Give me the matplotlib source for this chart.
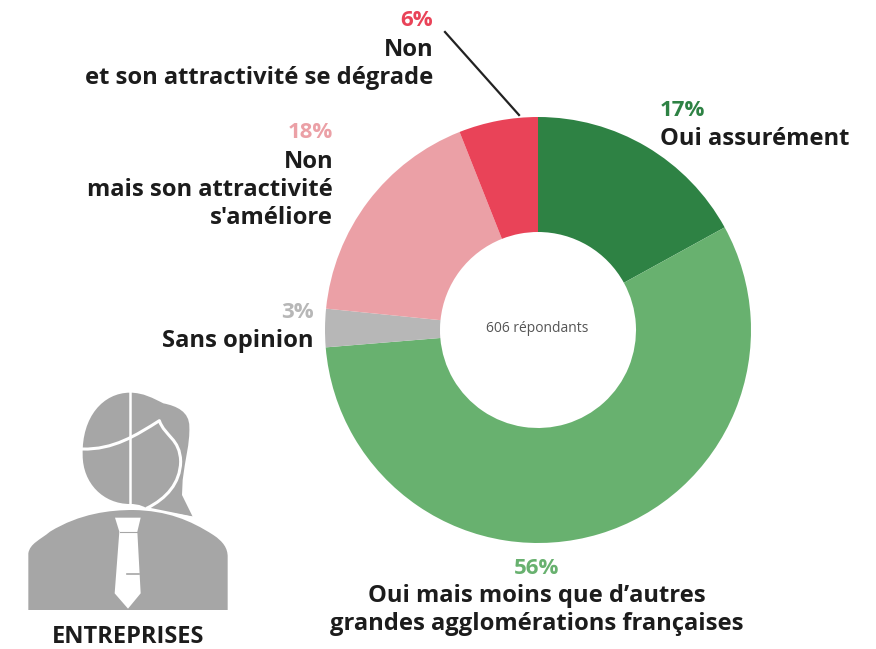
import matplotlib
matplotlib.use("Agg")
import matplotlib.pyplot as plt
from matplotlib.path import Path
from matplotlib.patches import PathPatch

slices = [17, 56.7, 2.9, 17.4, 6]
percent_labels = ["17%", "56%", "3%", "18%", "6%"]
category_labels = ["Oui assurément",
                   "Oui mais moins que d’autres\ngrandes agglomérations françaises",
                   "Sans opinion",
                   "Non\nmais son attractivité\ns'améliore",
                   "Non\net son attractivité se dégrade"]
colors = ["#2e8244", "#68b16f", "#b7b7b7", "#eba0a6", "#e94358"]
W, H = 876, 649
plt.rcParams['font.family'] = ['Open Sans', 'DejaVu Sans']

fig = plt.figure(figsize=(W/100, H/100), dpi=100)
ax = fig.add_axes([0, 0, 1, 1])
ax.set_xlim(0, W)
ax.set_ylim(H, 0)
ax.axis("off")

ax2 = fig.add_axes([0, 0, 1, 1])
ax2.set_xlim(0, W)
ax2.set_ylim(0, H)
ax2.axis("off")
ax2.pie(slices, colors=colors, startangle=90, counterclock=False,
        center=(538, H-330), radius=213, frame=True,
        wedgeprops=dict(width=115, edgecolor="white", linewidth=0))
ax2.set_xlim(0, W)
ax2.set_ylim(0, H)
ax2.axis("off")

FS = 17.1
def lab(i, x, y_pct, y_cat, ha):
    ax.text(x, y_pct, percent_labels[i], color=colors[i], fontsize=16, fontweight="bold",
            ha=ha, va="center", zorder=5)
    ax.text(x, y_cat, category_labels[i], color="#1c1c1c", fontsize=FS, fontweight="bold",
            ha=ha, va="center", linespacing=1.22, zorder=5)

lab(0, 660, 111, 139, "left")
lab(1, 537, 568, 610, "center")
lab(2, 314, 313, 341, "right")
lab(3, 333, 133, 190, "right")
lab(4, 433, 20, 64, "right")
ax.text(537, 329, "606 répondants", fontsize=10, color="#555555", ha="center", va="center", zorder=5)
ax.text(128, 637, "ENTREPRISES", fontsize=17, fontweight="bold", color="#1c1c1c",
        ha="center", va="center")
ax.plot([445, 519], [32, 115], color="#222222", lw=1.6, zorder=4)

# icon
G = "#a6a6a6"
def z(p):
    return (p[0]/3, 380 + p[1]/3)
def shape(segments, fc=G, ec="none", lw=0, closed=True, zo=3):
    verts, codes = [], []
    for k, seg in enumerate(segments):
        if k == 0:
            verts.append(z(seg)); codes.append(Path.MOVETO)
        elif len(seg) == 2 and not isinstance(seg[0], tuple):
            verts.append(z(seg)); codes.append(Path.LINETO)
        else:
            for q in seg:
                verts.append(z(q)); codes.append(Path.CURVE4)
    if closed:
        verts.append(verts[0]); codes.append(Path.CLOSEPOLY)
    ax.add_patch(PathPatch(Path(verts, codes), fc=fc, ec=ec, lw=lw, zorder=zo,
                           capstyle="round", joinstyle="round"))

# head + hair
shape([(390, 38),
       ((430, 38), (460, 55), (490, 70)),
       ((530, 78), (568, 95), (568, 140)),
       ((570, 190), (555, 240), (548, 300)),
       (546, 345), (578, 410), (440, 385),
       ((420, 372), (400, 372), (390, 372)),
       ((310, 372), (248, 310), (248, 225)),
       ((245, 110), (310, 38), (390, 38))])
# body
shape([(85, 690), (85, 520),
       ((90, 490), (120, 480), (150, 455)),
       ((240, 400), (330, 390), (400, 390)),
       ((500, 392), (570, 420), (640, 465)),
       ((670, 485), (683, 505), (683, 530)),
       (683, 690)])
# white lines over the head
shape([(246, 207),
       ((340, 210), (410, 165), (478, 122)),
       ((495, 170), (540, 175), (542, 245)),
       ((540, 310), (500, 355), (440, 385))],
      fc="none", ec="white", lw=2.2, closed=False, zo=4)
ax.plot([130, 130], [380 + 36/3, 380 + 374/3], color="white", lw=1.8, zorder=4)
ax.plot([445/3, 578/3], [380 + 385/3, 380 + 412/3], color="white", lw=1.2, zorder=4)
# tie
shape([(345, 413), (422, 413), (412, 455), (422, 640), (384, 686), (344, 640), (358, 455)],
      fc="white", zo=4)
ax.plot([360/3, 412/3], [380 + 456/3, 380 + 456/3], color=G, lw=0.8, zorder=5)
ax.plot([382/3, 418/3], [380 + 582/3, 380 + 582/3], color=G, lw=1.2, zorder=5)

fig.savefig("out.png", dpi=100)
